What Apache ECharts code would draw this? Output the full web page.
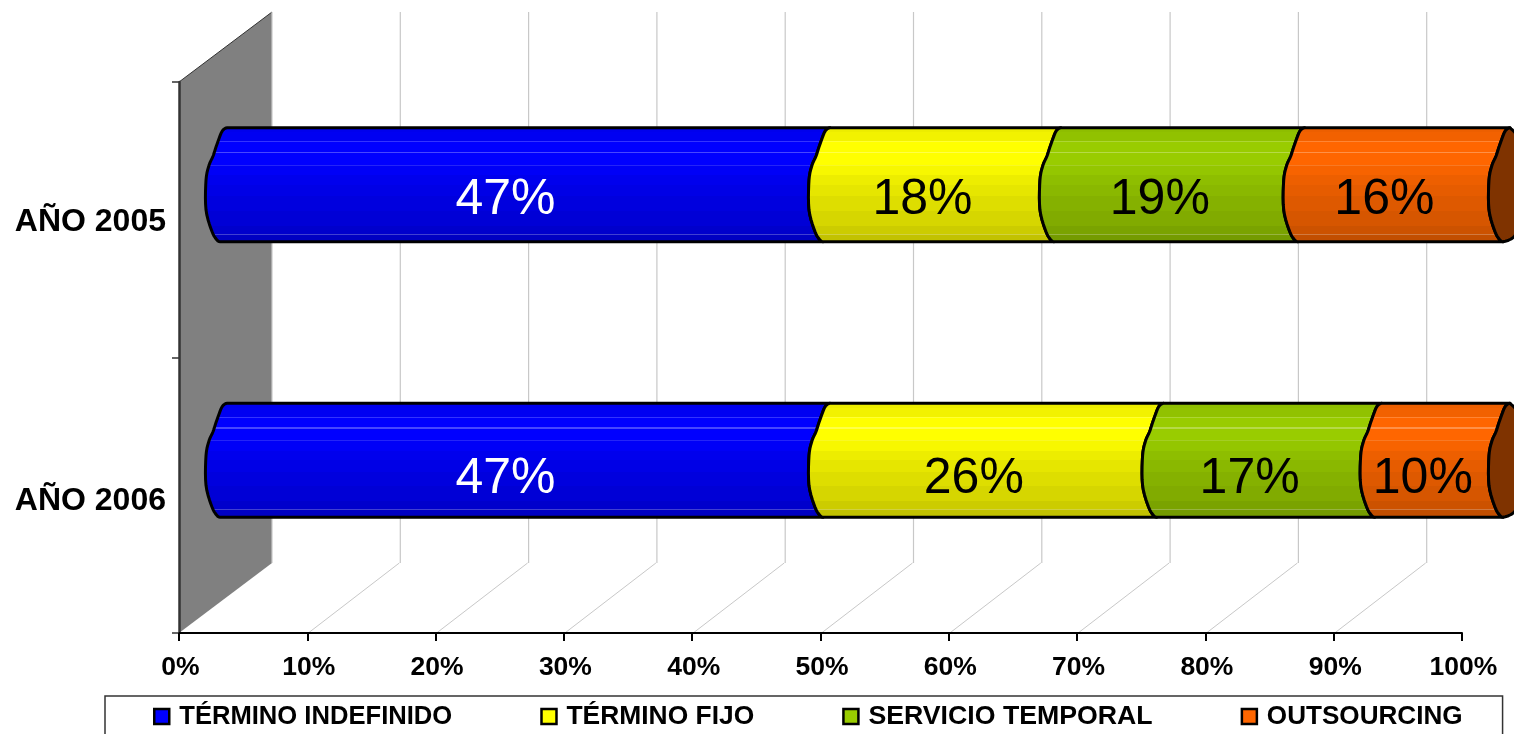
<!DOCTYPE html>
<html>
<head>
<meta charset="utf-8">
<style>html,body{margin:0;padding:0;background:#fff}#c{width:1514px;height:734px}</style>
<script src="https://cdn.jsdelivr.net/npm/echarts@6/dist/echarts.min.js"></script>
</head>
<body>
<div id="c"></div>
<script>
const categories = ['AÑO 2005', 'AÑO 2006'];
const terminoIndefinido = [47, 47];
const terminoFijo = [18, 26];
const servicioTemporal = [19, 17];
const outsourcing = [16, 10];
const seriesNames = ['TÉRMINO INDEFINIDO', 'TÉRMINO FIJO', 'SERVICIO TEMPORAL', 'OUTSOURCING'];
const seriesValues = [terminoIndefinido, terminoFijo, servicioTemporal, outsourcing];
const seriesColors = [[0, 0, 255], [255, 255, 0], [153, 204, 0], [255, 102, 0]];
const labelColors = ['#fff', '#000', '#000', '#000'];
const legendFontSizes = [25.6, 26.4, 26.7, 26.1];
const labelDrop = [15, 19];
const axisTicks = [0, 10, 20, 30, 40, 50, 60, 70, 80, 90, 100];

const FONT = '"Liberation Sans", Arial, sans-serif';
const DEPTH_X = 93, DEPTH_Y = -70, BAR_DX = 46, BAR_DY = -35, BAR_RATIO = 0.414;
const LEFT_ARC = smooth([[2,0],[-1,.012],[-4,.05],[-9,.17],[-12,.25],[-16,.33],[-19,.46],[-19,.72],[-13,.91],[-8,.985],[-5,1]]);
const RIGHT_ARC = smooth([[-5,1],[2,.98],[8,.93],[15,.75],[19,.46],[17,.25],[10,.08],[2,0]]);
const BANDS = [[0,.93],[.05,.95],[.13,1],[.22,1],[.33,.97],[.42,.93],[.5,.9],[.6,.87],[.72,.84],[.85,.8],[.92,.76]];
const GLINTS = [[.13,.2],[.22,.28],[.33,.14],[.92,.25]];

function smooth(pts) {
  const out = [];
  for (let i = 0; i < pts.length - 1; i++) {
    const a = pts[Math.max(i - 1, 0)], b = pts[i], c = pts[i + 1], d = pts[Math.min(i + 2, pts.length - 1)];
    for (let s = 0; s < 5; s++) {
      const t = s / 5, t2 = t * t, t3 = t2 * t;
      out.push([0, 1].map(k => .5 * (2 * b[k] + (c[k] - a[k]) * t + (2 * a[k] - 5 * b[k] + 4 * c[k] - d[k]) * t2 + (3 * b[k] - a[k] - 3 * c[k] + d[k]) * t3)));
    }
  }
  out.push(pts[pts.length - 1]);
  return out;
}
function rgb(c, m, w) {
  const f = v => Math.round(v * m + (255 - v * m) * (w || 0));
  return 'rgb(' + f(c[0]) + ',' + f(c[1]) + ',' + f(c[2]) + ')';
}
function bandGradient(c) {
  const stops = [];
  BANDS.forEach((b, i) => {
    const end = i + 1 < BANDS.length ? BANDS[i + 1][0] : 1;
    const glint = GLINTS.find(g => g[0] === b[0]);
    if (glint) {
      stops.push({offset: b[0], color: rgb(c, b[1], glint[1])});
      stops.push({offset: b[0] + .009, color: rgb(c, b[1], glint[1])});
      stops.push({offset: b[0] + .009, color: rgb(c, b[1])});
    } else {
      stops.push({offset: b[0], color: rgb(c, b[1])});
    }
    stops.push({offset: end, color: rgb(c, b[1])});
  });
  return {type: 'linear', x: 0, y: 0, x2: 0, y2: 1, colorStops: stops};
}
function arc(profile, x, top, h) {
  return profile.map(p => [x + p[0], top + p[1] * h]);
}

function renderFrame(params, api) {
  const v = api.value(0);
  const cs = params.coordSys;
  const bottom = cs.y + cs.height, top = cs.y;
  const x = api.coord([v, 0])[0];
  const children = [];
  if (v === 0) {
    children.push({type: 'polygon', shape: {points: [[x, top], [x + DEPTH_X, top + DEPTH_Y], [x + DEPTH_X, bottom + DEPTH_Y], [x, bottom]]},
      style: {fill: '#808080'}});
    children.push({type: 'line', shape: {x1: x, y1: top, x2: x + DEPTH_X, y2: top + DEPTH_Y}, style: {stroke: '#333', lineWidth: 1}});
  } else if (v < 100) {
    children.push({type: 'line', shape: {x1: x + 1, y1: bottom, x2: x + DEPTH_X - 1, y2: bottom + DEPTH_Y}, style: {stroke: '#c8c8c8', lineWidth: 1}});
  }
  if (v < 100) {
    children.push({type: 'line', shape: {x1: x + DEPTH_X, y1: top + DEPTH_Y, x2: x + DEPTH_X, y2: bottom + DEPTH_Y}, style: {stroke: '#c8c8c8', lineWidth: 1.2}});
  }
  return {type: 'group', children};
}

function makeRender(si) {
  const fill = bandGradient(seriesColors[si]);
  return function (params, api) {
    const cat = api.value(0), start = api.value(1), end = api.value(2), val = api.value(3);
    const p0 = api.coord([start, cat]), p1 = api.coord([end, cat]);
    const h = api.size([0, 1])[1] * BAR_RATIO;
    const cy = p0[1] + BAR_DY, top = cy - h / 2;
    const x0 = p0[0] + BAR_DX, x1 = p1[0] + BAR_DX;
    const pts = arc(LEFT_ARC, x0, top, h).concat(arc(LEFT_ARC, x1, top, h).reverse());
    const stroke = {stroke: '#000', lineWidth: 3, lineJoin: 'round'};
    const children = [{type: 'polygon', shape: {points: pts}, style: Object.assign({fill}, stroke)}];
    if (si === seriesNames.length - 1) {
      children.push({type: 'polygon', shape: {points: arc(LEFT_ARC, x1, top, h).concat(arc(RIGHT_ARC, x1, top, h))},
        style: Object.assign({fill: '#7f3300'}, stroke)});
    }
    children.push({type: 'text', style: {text: val + '%', x: (x0 + x1) / 2 - 21, y: cy + labelDrop[cat], fill: labelColors[si],
      font: '50px ' + FONT, textAlign: 'center', textVerticalAlign: 'middle'}});
    return {type: 'group', children};
  };
}

const series = [{
  type: 'custom', z: 1, silent: true, renderItem: renderFrame,
  data: axisTicks.map(t => [t, 0]), encode: {x: 0, y: 1}
}];
seriesNames.forEach((name, si) => {
  series.push({
    type: 'custom', name, z: 3 + si, silent: true, clip: false, renderItem: makeRender(si),
    itemStyle: {color: rgb(seriesColors[si], 1)},
    encode: {x: [1, 2], y: 0},
    data: categories.map((c, ci) => {
      let start = 0;
      for (let k = 0; k < si; k++) start += seriesValues[k][ci];
      return [ci, start, start + seriesValues[si][ci], seriesValues[si][ci]];
    })
  });
});

const yRich = {fontFamily: FONT, fontWeight: 'bold', fontSize: 32, color: '#000'};
const chart = echarts.init(document.getElementById('c'), null, {renderer: 'canvas'});
chart.setOption({
  animation: false,
  backgroundColor: '#fff',
  grid: {left: 179, right: 52, top: 82, bottom: 101, containLabel: false},
  xAxis: {
    type: 'value', min: 0, max: 100, interval: 10, z: 8,
    splitLine: {show: false},
    axisLine: {show: true, onZero: false, lineStyle: {color: '#000', width: 2}},
    axisTick: {show: true, length: 8, lineStyle: {color: '#000', width: 2}},
    axisLabel: {formatter: '{value}%', fontFamily: FONT, fontWeight: 'bold', fontSize: 26.5, color: '#000', margin: 21, padding: [0, 0, 0, 3], showMinLabel: true, showMaxLabel: true}
  },
  yAxis: {
    type: 'category', inverse: true, data: categories, z: 8,
    axisLine: {show: true, lineStyle: {color: '#333', width: 2.5}},
    axisTick: {show: true, length: 7, lineStyle: {color: '#333', width: 1.5}},
    axisLabel: {
      margin: 13, padding: [5, 0, 0, 0], fontFamily: FONT, fontWeight: 'bold', fontSize: 32, color: '#000',
      formatter: (v, i) => (i === 1 ? '{b|' : '{a|') + v + '}',
      rich: {a: yRich, b: Object.assign({padding: [6, 0, 0, 0]}, yRich)}
    }
  },
  legend: {
    left: 105, top: 696, orient: 'horizontal', itemGap: 88, itemWidth: 15, itemHeight: 15,
    padding: [7, 40, 40, 48], borderColor: '#333', borderWidth: 1.5,
    data: seriesNames.map((n, i) => ({name: n, icon: 'rect', textStyle: {fontSize: legendFontSizes[i]}})),
    itemStyle: {borderColor: '#000', borderWidth: 2.5},
    selectedMode: false,
    textStyle: {fontFamily: FONT, fontWeight: 'bold', fontSize: 25.6, color: '#000', padding: [0, 0, 0, 5]}
  },
  series
});
</script>
</body>
</html>
